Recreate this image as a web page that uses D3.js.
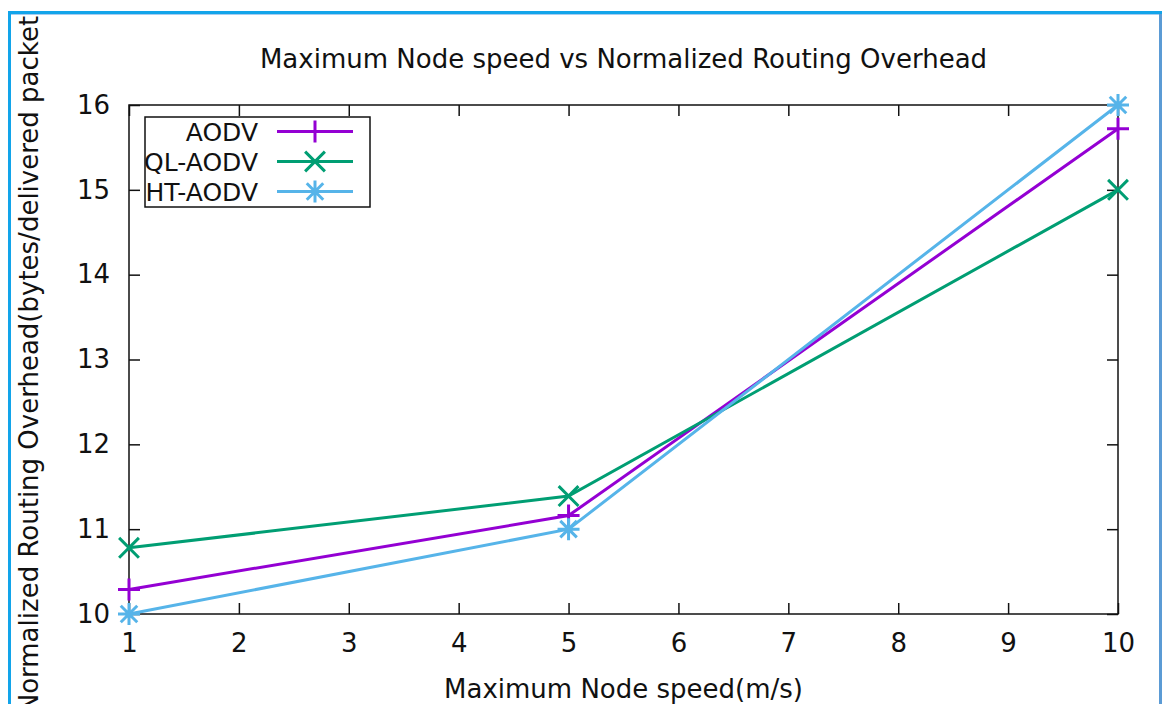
<!DOCTYPE html>
<html>
<head>
<meta charset="utf-8">
<script src="https://cdn.jsdelivr.net/npm/d3@7.9.0/dist/d3.min.js"></script>
<style>
  html, body { margin: 0; padding: 0; background: #fff; }
  svg { display: block; font-family: "DejaVu Sans", sans-serif; }
  .axis text { font-size: 26px; fill: #111; font-family: "DejaVu Sans", sans-serif; }
  .axis line { stroke: #111; stroke-width: 1.5; }
  .axis path { display: none; }
</style>
</head>
<body>
<svg id="chart" width="1162" height="704"></svg>
<script>
// ======== data ========
const speeds = [1, 5, 10];
const seriesNames = ['AODV', 'QL-AODV', 'HT-AODV'];
const aodvValues = [10.29, 11.16, 15.72];
const qlAodvValues = [10.78, 11.39, 15.0];
const htAodvValues = [10.0, 11.0, 16.0];
const xTicks = [1, 2, 3, 4, 5, 6, 7, 8, 9, 10];
const yTicks = [10, 11, 12, 13, 14, 15, 16];

const colors = ['#9400d3', '#009e73', '#56b4e9'];
const markerKinds = ['plus', 'cross', 'star'];

const series = seriesNames.map((name, i) => ({
  name,
  color: colors[i],
  marker: markerKinds[i],
  values: [aodvValues, qlAodvValues, htAodvValues][i].map((v, j) => ({ x: speeds[j], y: v }))
}));

// ======== layout ========
const svg = d3.select('#chart');
const plot = { left: 129, right: 1118, top: 105, bottom: 614 };
const fontSize = 26;

const x = d3.scaleLinear().domain([1, 10]).range([plot.left, plot.right]);
const y = d3.scaleLinear().domain([10, 16]).range([plot.bottom, plot.top]);

// everything inside the blue screenshot frame is clipped
svg.append('clipPath').attr('id', 'frame-clip')
  .append('rect').attr('x', 11).attr('y', 14).attr('width', 1148).attr('height', 700);

const g = svg.append('g').attr('clip-path', 'url(#frame-clip)');

// marker shapes (gnuplot style points)
function markerPath(kind, s) {
  const plus = `M${-s},0H${s}M0,${-s}V${s}`;
  const c = kind === 'star' ? s * 0.75 : s * 0.9;
  const cross = `M${-c},${-c}L${c},${c}M${-c},${c}L${c},${-c}`;
  if (kind === 'plus') return plus;
  if (kind === 'cross') return cross;
  return plus + cross;
}

// ======== axes (ticks inward, mirrored) ========
g.append('g').attr('class', 'axis')
  .attr('transform', `translate(0,${plot.bottom})`)
  .call(d3.axisBottom(x).tickValues(xTicks).tickFormat(d3.format('d'))
    .tickSizeInner(-11).tickSizeOuter(0).tickPadding(20));

g.append('g').attr('class', 'axis')
  .attr('transform', `translate(0,${plot.top})`)
  .call(d3.axisTop(x).tickValues(xTicks).tickSizeInner(-11).tickSizeOuter(0).tickFormat(''));

g.append('g').attr('class', 'axis')
  .attr('transform', `translate(${plot.left},0)`)
  .call(d3.axisLeft(y).tickValues(yTicks).tickFormat(d3.format('d'))
    .tickSizeInner(-11).tickSizeOuter(0).tickPadding(19));

g.append('g').attr('class', 'axis')
  .attr('transform', `translate(${plot.right},0)`)
  .call(d3.axisRight(y).tickValues(yTicks).tickSizeInner(-11).tickSizeOuter(0).tickFormat(''));

// plot border
g.append('rect')
  .attr('x', plot.left).attr('y', plot.top)
  .attr('width', plot.right - plot.left).attr('height', plot.bottom - plot.top)
  .attr('fill', 'none').attr('stroke', '#111').attr('stroke-width', 1.5);

// ======== titles ========
g.append('text')
  .attr('x', (plot.left + plot.right) / 2).attr('y', 68)
  .attr('text-anchor', 'middle').attr('font-size', fontSize).attr('fill', '#111')
  .text('Maximum Node speed vs Normalized Routing Overhead');

g.append('text')
  .attr('x', (plot.left + plot.right) / 2).attr('y', 698)
  .attr('text-anchor', 'middle').attr('font-size', fontSize).attr('fill', '#111')
  .text('Maximum Node speed(m/s)');

g.append('text')
  .attr('transform', `translate(38,${(plot.top + plot.bottom) / 2}) rotate(-90)`)
  .attr('text-anchor', 'middle').attr('font-size', fontSize).attr('fill', '#111')
  .text('Normalized Routing Overhead(bytes/delivered packet)');

// ======== lines + points ========
const line = d3.line().x(d => x(d.x)).y(d => y(d.y));

const sg = g.selectAll('.series')
  .data(series)
  .enter()
  .append('g')
  .attr('class', 'series');

sg.append('path')
  .attr('d', d => line(d.values))
  .attr('fill', 'none')
  .attr('stroke', d => d.color)
  .attr('stroke-width', 3);

sg.selectAll('.pt')
  .data(d => d.values.map(v => ({ ...v, color: d.color, marker: d.marker })))
  .enter()
  .append('path')
  .attr('class', 'pt')
  .attr('transform', d => `translate(${x(d.x)},${y(d.y)})`)
  .attr('d', d => markerPath(d.marker, 11))
  .attr('fill', 'none')
  .attr('stroke', d => d.color)
  .attr('stroke-width', 3);

// ======== legend ========
const legend = g.append('g');
legend.append('rect')
  .attr('x', 145).attr('y', 117).attr('width', 225).attr('height', 90)
  .attr('fill', '#fff').attr('stroke', '#111').attr('stroke-width', 1.5);

const items = legend.selectAll('.item')
  .data(series)
  .enter()
  .append('g')
  .attr('transform', (d, i) => `translate(0,${131.5 + i * 30})`);

items.append('text')
  .attr('x', 258).attr('y', 9)
  .attr('text-anchor', 'end').attr('font-size', 25).attr('fill', '#111')
  .text(d => d.name);

items.append('line')
  .attr('x1', 277).attr('x2', 353)
  .attr('stroke', d => d.color).attr('stroke-width', 3);

items.append('path')
  .attr('transform', 'translate(315,0)')
  .attr('d', d => markerPath(d.marker, 11))
  .attr('fill', 'none')
  .attr('stroke', d => d.color)
  .attr('stroke-width', 3);

// ======== screenshot frame ========
svg.append('rect').attr('x', 8).attr('y', 11).attr('width', 1154).attr('height', 3).attr('fill', '#12a4ea');
svg.append('rect').attr('x', 11).attr('y', 14).attr('width', 1148).attr('height', 1).attr('fill', '#a6cdf0');
svg.append('rect').attr('x', 8).attr('y', 11).attr('width', 3).attr('height', 693).attr('fill', '#12a4ea');
svg.append('rect').attr('x', 1159).attr('y', 14).attr('width', 3).attr('height', 690).attr('fill', '#5b9bd5');
</script>
</body>
</html>
